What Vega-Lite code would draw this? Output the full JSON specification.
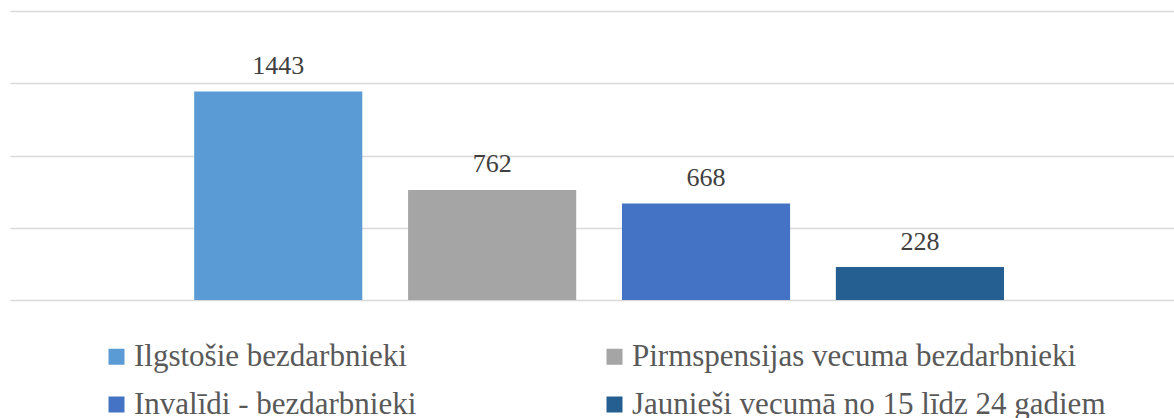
{
  "$schema": "https://vega.github.io/schema/vega-lite/v6.json",
  "autosize": {"type": "none"},
  "padding": {"left": 10, "top": 11, "right": 0, "bottom": 118},
  "width": 1164,
  "height": 289,
  "background": "white",
  "config": {"view": {"stroke": null}},
  "data": {
    "values": [
      {"kategorija": "Ilgstošie bezdarbnieki", "skaits": 1443},
      {"kategorija": "Pirmspensijas vecuma bezdarbnieki", "skaits": 762},
      {"kategorija": "Invalīdi - bezdarbnieki", "skaits": 668},
      {"kategorija": "Jaunieši vecumā no 15 līdz 24 gadiem", "skaits": 228}
    ]
  },
  "encoding": {
    "x": {
      "field": "kategorija",
      "type": "nominal",
      "sort": null,
      "axis": null,
      "scale": {"paddingInner": 0.214, "paddingOuter": 0.828, "align": 0.52}
    },
    "y": {
      "field": "skaits",
      "type": "quantitative",
      "scale": {"domain": [0, 2000], "nice": false},
      "axis": {
        "values": [0, 500, 1000, 1500, 2000],
        "domain": false,
        "ticks": false,
        "labels": false,
        "title": null,
        "grid": true,
        "gridColor": "#d9d9d9",
        "gridWidth": 1.5
      }
    }
  },
  "layer": [
    {
      "mark": {"type": "bar"},
      "encoding": {
        "color": {
          "field": "kategorija",
          "type": "nominal",
          "sort": null,
          "scale": {
            "domain": ["Ilgstošie bezdarbnieki", "Invalīdi - bezdarbnieki", "Pirmspensijas vecuma bezdarbnieki", "Jaunieši vecumā no 15 līdz 24 gadiem"],
            "range": ["#5b9bd5", "#4472c4", "#a5a5a5", "#255e91"]
          },
          "legend": {
            "title": null,
            "orient": "none",
            "legendX": 91,
            "legendY": 330,
            "columns": 2,
            "columnPadding": 182,
            "rowPadding": 16,
            "padding": 0,
            "symbolType": "square",
            "symbolSize": 256,
            "symbolStrokeWidth": 0,
            "labelFont": "Liberation Serif",
            "labelFontSize": 31,
            "labelColor": "#595959",
            "labelOffset": 2,
            "labelLimit": 0
          }
        }
      }
    },
    {
      "mark": {"type": "text", "baseline": "alphabetic", "dy": -17.5, "font": "Liberation Serif", "fontSize": 26, "color": "#404040"},
      "encoding": {
        "text": {"field": "skaits", "type": "quantitative"}
      }
    }
  ]
}
